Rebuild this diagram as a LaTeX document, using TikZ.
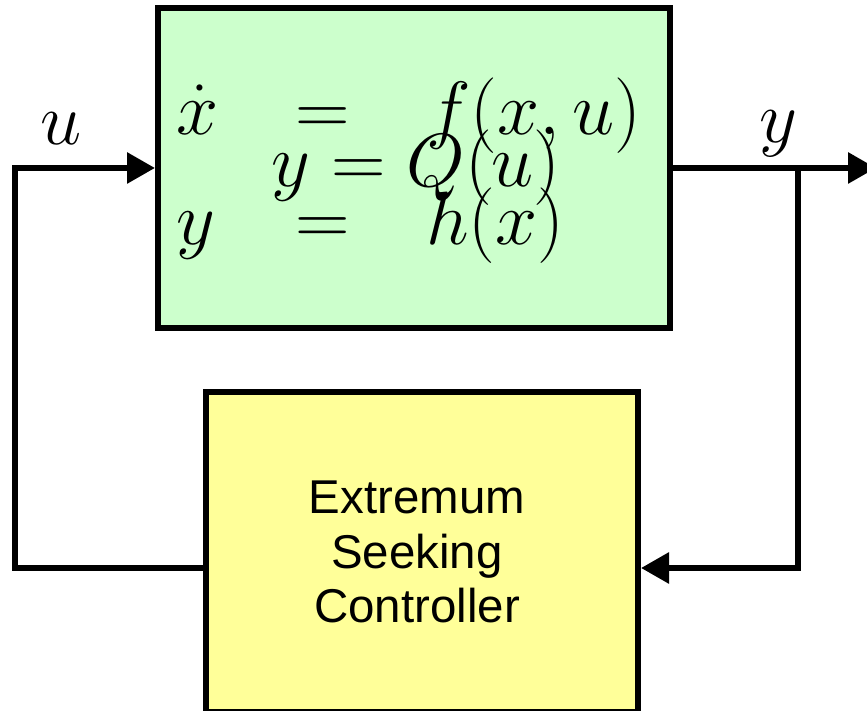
\RequirePackage{fix-cm}
\documentclass[tikz,border=0pt]{standalone}
\usepackage{amsmath}
\usepackage{fontspec}
\newfontfamily\escfont{Liberation Sans}
\usetikzlibrary{arrows.meta}
\usetikzlibrary{math}
\usetikzlibrary{calc}

\definecolor{plantgreen}{HTML}{CCFFCC}
\definecolor{escyellow}{HTML}{FFFF99}

\begin{document}
\begin{tikzpicture}[line width=0.06cm,
    sig/.style={-{Triangle[length=0.28cm,width=0.30cm]}},
    plantbox/.style={draw, fill=plantgreen, minimum width=5.12cm, minimum height=3.20cm},
    escbox/.style={draw, fill=escyellow, minimum width=4.32cm, minimum height=3.195cm},
    esctext/.style={align=center, font=\escfont\fontsize{13.5}{15.6}\selectfont},
    eqtext/.style={inner sep=0pt, font=\fontsize{21.5}{31.3}\selectfont},
    lbl/.style={anchor=base, inner sep=0pt, font=\fontsize{21}{24}\selectfont}]

  \tikzmath{
    \W     = 8.67; % page width
    \H     = 7.11; % page height
    \sigy  = 5.43; % height of the u and y lines
    \loopy = 1.43; % height of the feedback line
  }

  \useasboundingbox (0,0) rectangle (\W,\H);

  % plant
  \node[plantbox] (plant) at (4.14, \sigy) {};
  \node[eqtext] (eqs) at ($ (plant.center) + (-0.05,0) $)
    {$\arraycolsep=10.9pt\begin{array}{lcl}
       \dot{x} & = & f(x,u)\\
       y       & = & h(x)
     \end{array}$};
  \node[eqtext] (static) at ($ (plant.center) + (0.02,0) $) {$y=Q(u)$};

  % extremum seeking controller
  \node[escbox] (esc) at (4.22, 1.59) {};
  \node[esctext] (esclabel) at ($ (esc.center) + (-0.05,0) $) {Extremum\\Seeking\\Controller};

  % corners of the loop
  \coordinate (lc)  at (0.145, \loopy);
  \coordinate (br)  at (7.98, \sigy);
  \coordinate (out) at (8.76, \sigy);

  % input u
  \draw[sig] (esc.west |- lc) -- (lc) -- (lc |- plant.west) -- (plant.west);
  \node[lbl] (ulab) at (0.61, 5.66) {$u$};

  % output y and feedback
  \draw[sig] (plant.east) -- (out);
  \node[lbl] (ylab) at (7.78, 5.68) {$y$};
  \draw[sig] (br) -- (br |- lc) -- (esc.east |- lc);

\end{tikzpicture}
\end{document}
